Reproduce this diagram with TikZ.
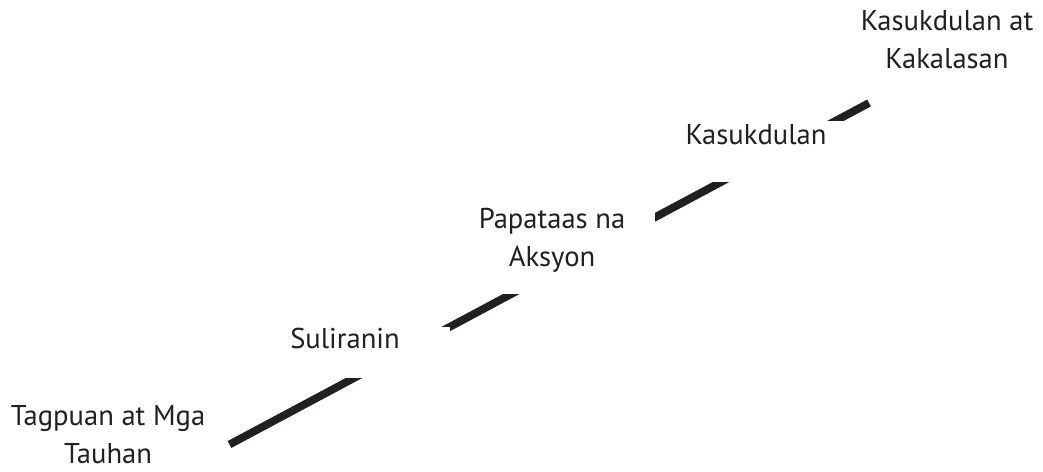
\documentclass[tikz,border=0pt]{standalone}
\usepackage{fontspec}
\setmainfont{PT Sans}
\definecolor{inkblack}{RGB}{35,31,32}

\begin{document}
\begin{tikzpicture}[x=0.5pt,y=-0.5pt,
  every node/.style={font=\fontsize{14.3}{19}\selectfont, text=inkblack, inner sep=0pt},
  stage/.style={fill=white, align=center}]
\useasboundingbox (0,0) rectangle (1043,471);

\coordinate (start) at (229.5,444.5);
\coordinate (end) at (869,103);
\draw [inkblack, line width=3.9pt] (start) -- (end);

\node (tagpuan) [align=center] at (108,435) {Tagpuan at Mga\\Tauhan};
\node (suliranin) [stage, anchor=base, text height=10.5pt, text depth=15pt, minimum width=105pt] at (345,348) {Suliranin};
\node (papataas) [stage, minimum width=103pt, minimum height=54pt] at (552,240) {Papataas na\\Aksyon};
\node (kasukdulan) [stage, anchor=base, text height=11.5pt, text depth=19pt, minimum width=100pt] at (756,144) {Kasukdulan};
\node (kakalasan) [align=center] at (947,40) {Kasukdulan at\\Kakalasan};
\end{tikzpicture}
\end{document}
